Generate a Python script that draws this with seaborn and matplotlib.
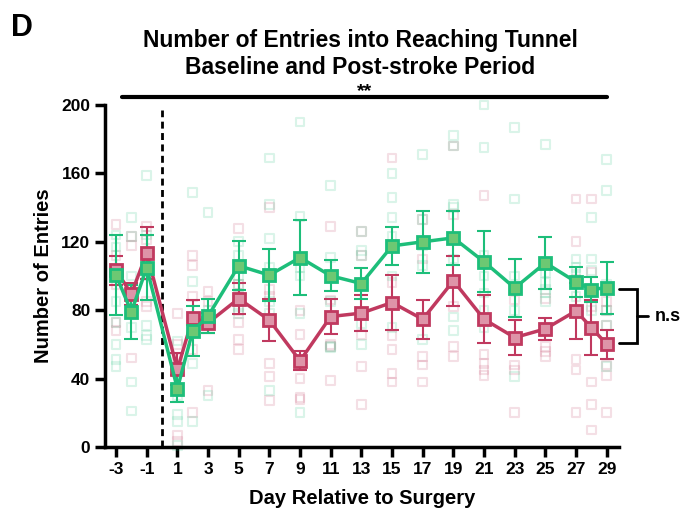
import matplotlib
matplotlib.use("Agg")
import matplotlib.pyplot as plt
import numpy as np
import pandas as pd
import seaborn as sns

# ---- data -------------------------------------------------------------
days = [-3, -2, -1, 1, 2, 3, 5, 7, 9, 11, 13, 15, 17, 19, 21, 23, 25, 27, 28, 29]

green_mean = [100.5, 79.0, 104.9, 34.1, 67.9, 76.5, 106.0, 100.5, 110.8, 100.1,
              95.6, 117.6, 120.0, 122.3, 108.3, 93.0, 107.7, 96.5, 92.1, 93.2]
green_sem = [23.4, 15.6, 19.0, 7.8, 14.6, 10.0, 14.3, 15.0, 22.2, 9.0,
             9.2, 11.2, 18.1, 15.6, 17.8, 16.9, 15.3, 9.0, 7.3, 15.2]

magenta_mean = [103.4, 89.5, 113.4, 45.4, 75.6, 72.6, 86.8, 74.2, 50.4, 76.3,
                78.3, 84.5, 74.7, 97.2, 74.7, 64.0, 69.1, 79.6, 69.8, 60.1]
magenta_sem = [8.5, 6.4, 15.0, 9.3, 10.2, 5.8, 9.0, 12.2, 5.6, 10.2,
               10.6, 16.2, 11.4, 14.5, 14.1, 10.0, 6.3, 16.3, 16.1, 8.5]

# individual animals, one list per day
green_points = [
    [124, 117, 100, 85, 73, 60, 51, 47],
    [134, 123, 100, 70, 38, 21],
    [159, 124, 100, 71, 65, 63],
    [62, 30, 19, 15, 1],
    [149, 97, 70, 49, 15],
    [137, 80, 30],
    [120, 112, 100, 95, 88, 82, 78],
    [169, 142, 122, 105, 85, 78, 33],
    [190, 135, 105, 100, 78, 20],
    [153, 111, 100, 85, 59, 58],
    [126, 115, 112, 95, 72, 60],
    [160, 146, 134, 123, 100, 70],
    [171, 133, 118, 106, 75, 63],
    [182, 176, 142, 140, 110, 76, 68],
    [200, 175, 112, 100, 90, 80, 70],
    [187, 145, 100, 80, 41],
    [177, 102, 96, 92, 90, 85],
    [110, 105, 101, 96, 88],
    [134, 110, 103, 90, 80],
    [168, 150, 95, 80, 71, 47],
]
magenta_points = [
    [130, 112, 104, 95, 73, 68],
    [123, 118, 89, 52],
    [129, 121, 110, 85, 82],
    [78, 60, 52, 45, 7, 3],
    [112, 106, 88, 57, 20],
    [91, 85, 33],
    [128, 95, 88, 80, 73, 63, 57],
    [140, 92, 88, 49, 41, 27],
    [80, 66, 40, 29, 28],
    [129, 86, 60, 59, 39],
    [126, 112, 79, 66, 47, 25],
    [169, 96, 65, 57, 43, 38],
    [133, 110, 75, 53, 48, 38],
    [176, 136, 97, 82, 59, 53],
    [147, 75, 54, 49, 45, 42],
    [86, 64, 48, 45, 20],
    [87, 70, 59, 56, 53],
    [145, 120, 98, 51, 45, 20],
    [145, 102, 82, 38, 25, 10],
    [85, 80, 71, 48, 42, 20],
]

x_ticks = list(range(-3, 30, 2))
y_ticks = [0, 40, 80, 120, 160, 200]

# ---- style ------------------------------------------------------------
sns.set_theme(style="ticks")
plt.rcParams["font.family"] = ["Liberation Sans", "DejaVu Sans"]
plt.rcParams["font.weight"] = "bold"
plt.rcParams["text.color"] = "black"
plt.rcParams["axes.labelcolor"] = "black"
plt.rcParams["xtick.color"] = "black"
plt.rcParams["ytick.color"] = "black"

GREEN_EDGE = "#1DBE7A"
GREEN_FACE = "#6DC873"
MAG_EDGE = "#C0395F"
MAG_FACE = "#DE94A8"

fig = plt.figure(figsize=(6.87, 5.18), dpi=100)
W, H = 687, 518
ax = fig.add_axes([105 / W, (H - 447) / H, (619 - 105) / W, (447 - 105) / H])

mean_df = pd.DataFrame({
    "day": days * 2,
    "entries": green_mean + magenta_mean,
    "sem": green_sem + magenta_sem,
    "group": ["green"] * len(days) + ["magenta"] * len(days),
})
pts_df = pd.DataFrame(
    [(d, v, "green") for d, vals in zip(days, green_points) for v in vals]
    + [(d, v, "magenta") for d, vals in zip(days, magenta_points) for v in vals],
    columns=["day", "entries", "group"],
)

styles = {"green": (GREEN_EDGE, GREEN_FACE), "magenta": (MAG_EDGE, MAG_FACE)}

# faint individual animals
for grp in ["magenta", "green"]:
    edge, face = styles[grp]
    sub = pts_df[pts_df.group == grp]
    sns.scatterplot(data=sub, x="day", y="entries", ax=ax, marker="s", s=40,
                    facecolor="none", edgecolor=edge, linewidth=1.5,
                    alpha=0.16, legend=False, clip_on=False, zorder=2)

# group means with SEM
for grp in ["magenta", "green"]:
    edge, face = styles[grp]
    sub = mean_df[mean_df.group == grp]
    ax.errorbar(sub["day"], sub["entries"], yerr=sub["sem"], fmt="none",
                ecolor=edge, elinewidth=1.5, capsize=5, capthick=1.5, zorder=3)
    sns.lineplot(data=sub, x="day", y="entries", ax=ax, color=edge,
                 linewidth=2.5, marker="s", markersize=9,
                 markerfacecolor=face, markeredgecolor=edge,
                 markeredgewidth=2, legend=False, zorder=4)

# surgery day
ax.plot([0, 0], [0, 197], ls=(0, (2.5, 1.6)), color="black", lw=2, zorder=1)

ax.set_xlim(-3.72, 29.8)
ax.set_ylim(0, 200)
ax.set_xticks(x_ticks)
ax.set_xticklabels([str(t) for t in x_ticks])
ax.set_yticks(y_ticks)
ax.tick_params(axis="both", direction="out", length=7, width=2.5,
               labelsize=12.5, color="black", labelcolor="black")
for lbl in ax.get_xticklabels() + ax.get_yticklabels():
    lbl.set_fontweight("bold")
for side in ["left", "bottom"]:
    ax.spines[side].set_linewidth(2.5)
    ax.spines[side].set_color("black")
sns.despine(ax=ax)

ax.set_xlabel("Day Relative to Surgery", fontsize=14.5, fontweight="bold", labelpad=9)
ax.set_ylabel("Number of Entries", fontsize=14.5, fontweight="bold", labelpad=6)

# overall comparison bar
ax.plot([-2.6, 29], [204.7, 204.7], color="black", lw=3, clip_on=False)
ax.text(13.2, 208.0, "**", ha="center", va="center", fontsize=14,
        fontweight="bold", clip_on=False)

# end-point bracket
bx = 31.0
ax.plot([29.8, bx, bx, 29.8], [92.3, 92.3, 60.7, 60.7], color="black",
        lw=2, clip_on=False, solid_joinstyle="miter")
ax.plot([bx, 31.7], [76.5, 76.5], color="black", lw=2, clip_on=False)
ax.text(32.1, 76.5, "n.s", ha="left", va="center", fontsize=13,
        fontweight="bold", clip_on=False)

fig.text(360 / W, 1 - 54 / H,
         "Number of Entries into Reaching Tunnel\nBaseline and Post-stroke Period",
         ha="center", va="center", fontsize=16.5, fontweight="bold", linespacing=1.2)
fig.text(11 / W, 1 - 28 / H, "D", ha="left", va="center", fontsize=22,
         fontweight="bold")

fig.savefig("out.png", dpi=100)
